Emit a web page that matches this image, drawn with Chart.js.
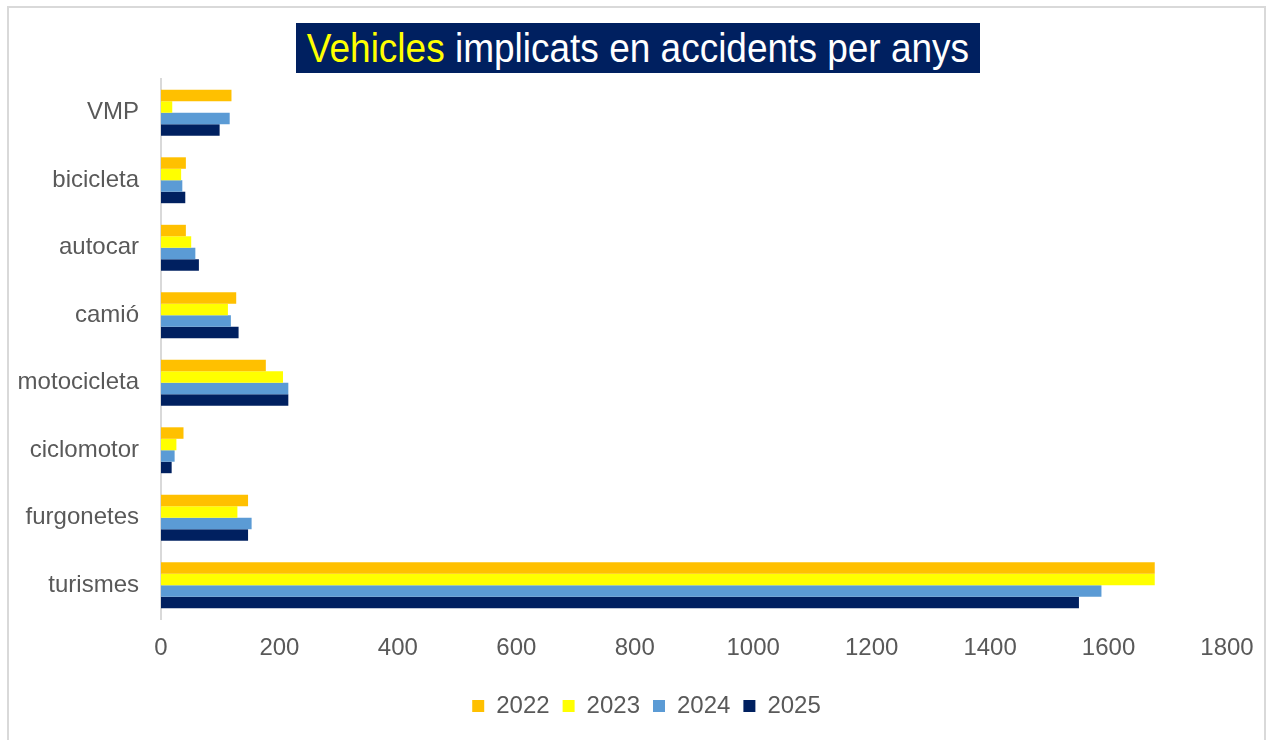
<!DOCTYPE html>
<html>
<head>
<meta charset="utf-8">
<script src="https://cdn.jsdelivr.net/npm/chart.js@4"></script>
<style>
  html,body{margin:0;padding:0;background:#fff;}
  body{width:1269px;height:740px;position:relative;overflow:hidden;font-family:"Liberation Sans",Arial,sans-serif;}
  #frame{position:absolute;left:7px;top:6px;width:1259px;height:760px;border:2px solid #d9d9d9;box-sizing:border-box;}
  #title{position:absolute;left:296px;top:23px;width:684px;height:50px;background:#002060;color:#fff;
         display:flex;align-items:center;justify-content:center;white-space:nowrap;}
  #title span.t{display:inline-block;font-size:40px;transform:scaleX(0.925);transform-origin:center;}
  #title .y{color:#ffff00;}
  #wrap{position:absolute;left:0;top:0;width:1269px;height:740px;}
</style>
</head>
<body>
<div id="frame"></div>
<div id="wrap"><canvas id="c" width="1269" height="740"></canvas></div>
<div id="title"><span class="t"><span class="y">Vehicles</span> implicats en accidents per anys</span></div>
<script>
const categories = ["VMP","bicicleta","autocar","camió","motocicleta","ciclomotor","furgonetes","turismes"];
const years = ["2022","2023","2024","2025"];
const v2022 = [119, 42, 42, 127, 177, 38, 147, 1678];
const v2023 = [19, 34, 51, 113, 206, 26, 129, 1678];
const v2024 = [116, 36, 58, 118, 215, 23, 153, 1588];
const v2025 = [99, 41, 64, 131, 215, 18, 147, 1550];
const xTicks = [0,200,400,600,800,1000,1200,1400,1600,1800];
const colors = ["#FFC000","#FFFF00","#5B9BD5","#002060"];

const series = [v2022, v2023, v2024, v2025];
const font = {family:"'Liberation Sans', Arial, sans-serif", size:24};

const shiftLegend = {
  id: 'shiftLegend',
  afterLayout(chart) {
    if (chart.legend) { chart.legend.left += 33; chart.legend.right += 33; }
  }
};

new Chart(document.getElementById('c'), {
  type: 'bar',
  data: {
    labels: categories,
    datasets: years.map((y,i)=>({
      label: y,
      data: series[i],
      backgroundColor: colors[i],
      borderWidth: 0,
      categoryPercentage: 0.68,
      barPercentage: 1.0
    }))
  },
  plugins: [shiftLegend],
  options: {
    indexAxis: 'y',
    responsive: false,
    animation: false,
    layout: {padding: {left: 0, right: 42, top: 79, bottom: 12}},
    plugins: {
      title: {display: false},
      tooltip: {enabled: false},
      legend: {
        position: 'bottom',
        labels: {
          boxWidth: 12, boxHeight: 12, padding: 13,
          color: '#595959', font: font
        }
      }
    },
    scales: {
      x: {
        min: 0, max: 1800,
        afterBuildTicks: (s) => { s.ticks = xTicks.map(v=>({value:v})); },
        afterFit: (s) => { s.height = 62; },
        grid: {display: false, drawTicks: false},
        border: {display: false},
        ticks: {color:'#595959', font: font, padding: 15, maxRotation: 0,
                callback: (v) => String(v)}
      },
      y: {
        afterFit: (s) => { s.width = 161; },
        grid: {display: false, drawTicks: false},
        border: {display: true, color: '#d9d9d9', width: 2},
        ticks: {color:'#595959', font: font, padding: 22}
      }
    }
  }
});
</script>
</body>
</html>
